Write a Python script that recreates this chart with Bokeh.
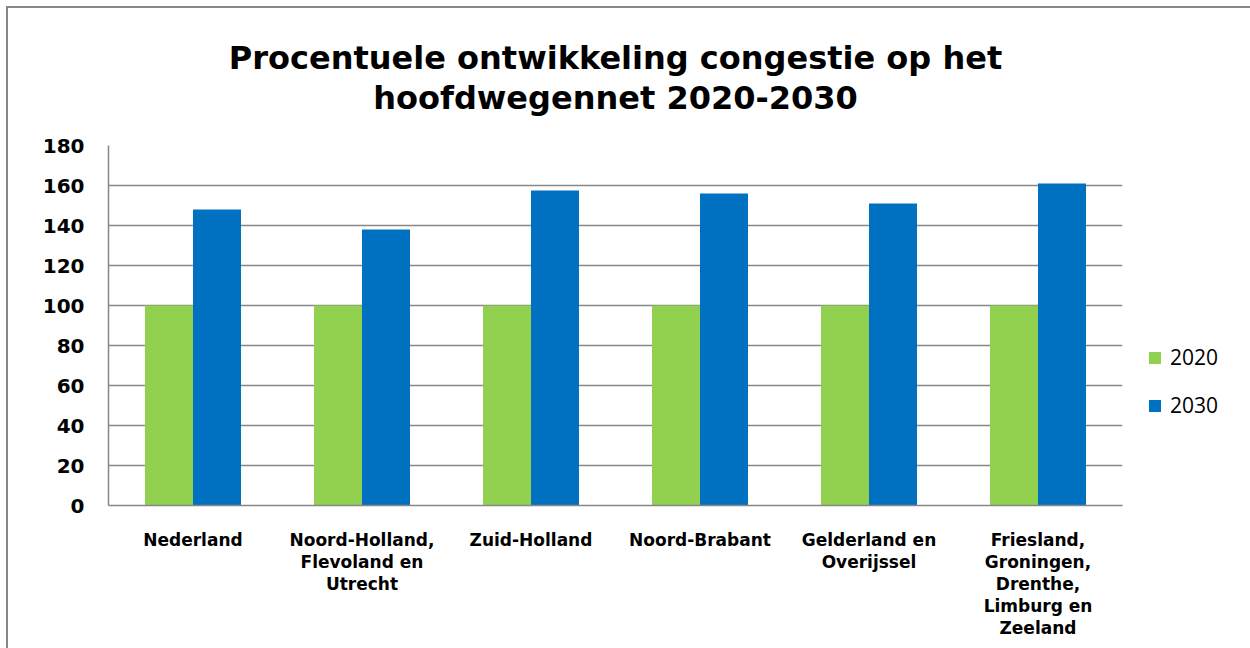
from bokeh.plotting import figure
from bokeh.models import (FactorRange, Range1d, Legend, LegendItem, Title,
                          FixedTicker, ColumnDataSource)
from bokeh.transform import dodge
from bokeh.embed import file_html
from bokeh.resources import INLINE

# ---- data ----
categories = [
    "Nederland",
    "Noord-Holland,\nFlevoland en\nUtrecht",
    "Zuid-Holland",
    "Noord-Brabant",
    "Gelderland en\nOverijssel",
    "Friesland,\nGroningen,\nDrenthe,\nLimburg en\nZeeland",
]
values_2020 = [100, 100, 100, 100, 100, 100]
values_2030 = [148, 138, 157.5, 156, 151, 161]
series_names = ["2020", "2030"]
y_ticks = [0, 20, 40, 60, 80, 100, 120, 140, 160, 180]
title_lines = ["Procentuele ontwikkeling congestie op het", "hoofdwegennet 2020-2030"]

GREEN = "#92D050"
BLUE = "#0070C0"
GRID = "#878787"

source = ColumnDataSource(dict(cat=categories, v2020=values_2020, v2030=values_2030))

p = figure(
    x_range=FactorRange(*categories, range_padding=0),
    y_range=Range1d(0, 180),
    frame_width=1014, frame_height=360,
    output_backend="svg", toolbar_location=None,
    min_border_left=100, min_border_right=128,
    min_border_top=137, min_border_bottom=143,
    background_fill_color="white", border_fill_color="white",
    outline_line_color=None,
)
p.styles = {"margin-left": "6px", "margin-top": "6px",
            "border-top": "2px solid #878787", "border-left": "2px solid #878787"}

r1 = p.vbar(x=dodge("cat", -0.142, range=p.x_range), top="v2020", width=0.284,
            source=source, fill_color=GREEN, line_color=None)
r2 = p.vbar(x=dodge("cat", 0.142, range=p.x_range), top="v2030", width=0.284,
            source=source, fill_color=BLUE, line_color=None)

# title: two centred lines, lifted off the frame by a blank spacer
spacer = Title(text=" ", text_font_size="1px", standoff=26)
t2 = Title(text=title_lines[1], align="center", text_font="DejaVu Sans",
           text_font_style="bold", text_font_size="32px", text_color="black",
           standoff=0)
t1 = Title(text=title_lines[0], align="center", text_font="DejaVu Sans",
           text_font_style="bold", text_font_size="32px", text_color="black",
           standoff=0)
p.add_layout(spacer, "above")
p.add_layout(t2, "above")
p.add_layout(t1, "above")

# axes
p.yaxis.ticker = FixedTicker(ticks=y_ticks)
p.ygrid.ticker = FixedTicker(ticks=y_ticks)
p.ygrid.grid_line_color = GRID
p.ygrid.grid_line_width = 1.5
p.xgrid.grid_line_color = None

for ax in (p.xaxis[0], p.yaxis[0]):
    ax.axis_line_color = GRID
    ax.axis_line_width = 1.5
    ax.major_tick_line_color = None
    ax.minor_tick_line_color = None
    ax.major_label_text_font = "DejaVu Sans"
    ax.major_label_text_font_style = "bold"
    ax.major_label_text_color = "black"

p.yaxis.major_label_text_font_size = "20px"
p.yaxis.major_label_standoff = 18
p.xaxis.major_label_text_font_size = "17px"
p.xaxis.major_label_standoff = 18
p.xaxis.major_label_text_line_height = 1.1

legend = Legend(
    items=[LegendItem(label=series_names[0], renderers=[r1]),
           LegendItem(label=series_names[1], renderers=[r2])],
    location=(25, 86),
    glyph_width=15, glyph_height=15, label_standoff=8,
    label_text_font="Open Sans", label_text_font_size="21px",
    label_text_color="black",
    spacing=20, padding=0, margin=0,
    border_line_color=None, background_fill_alpha=0,
)
p.add_layout(legend, "right")

open("out.html", "w").write(file_html(p, INLINE))
